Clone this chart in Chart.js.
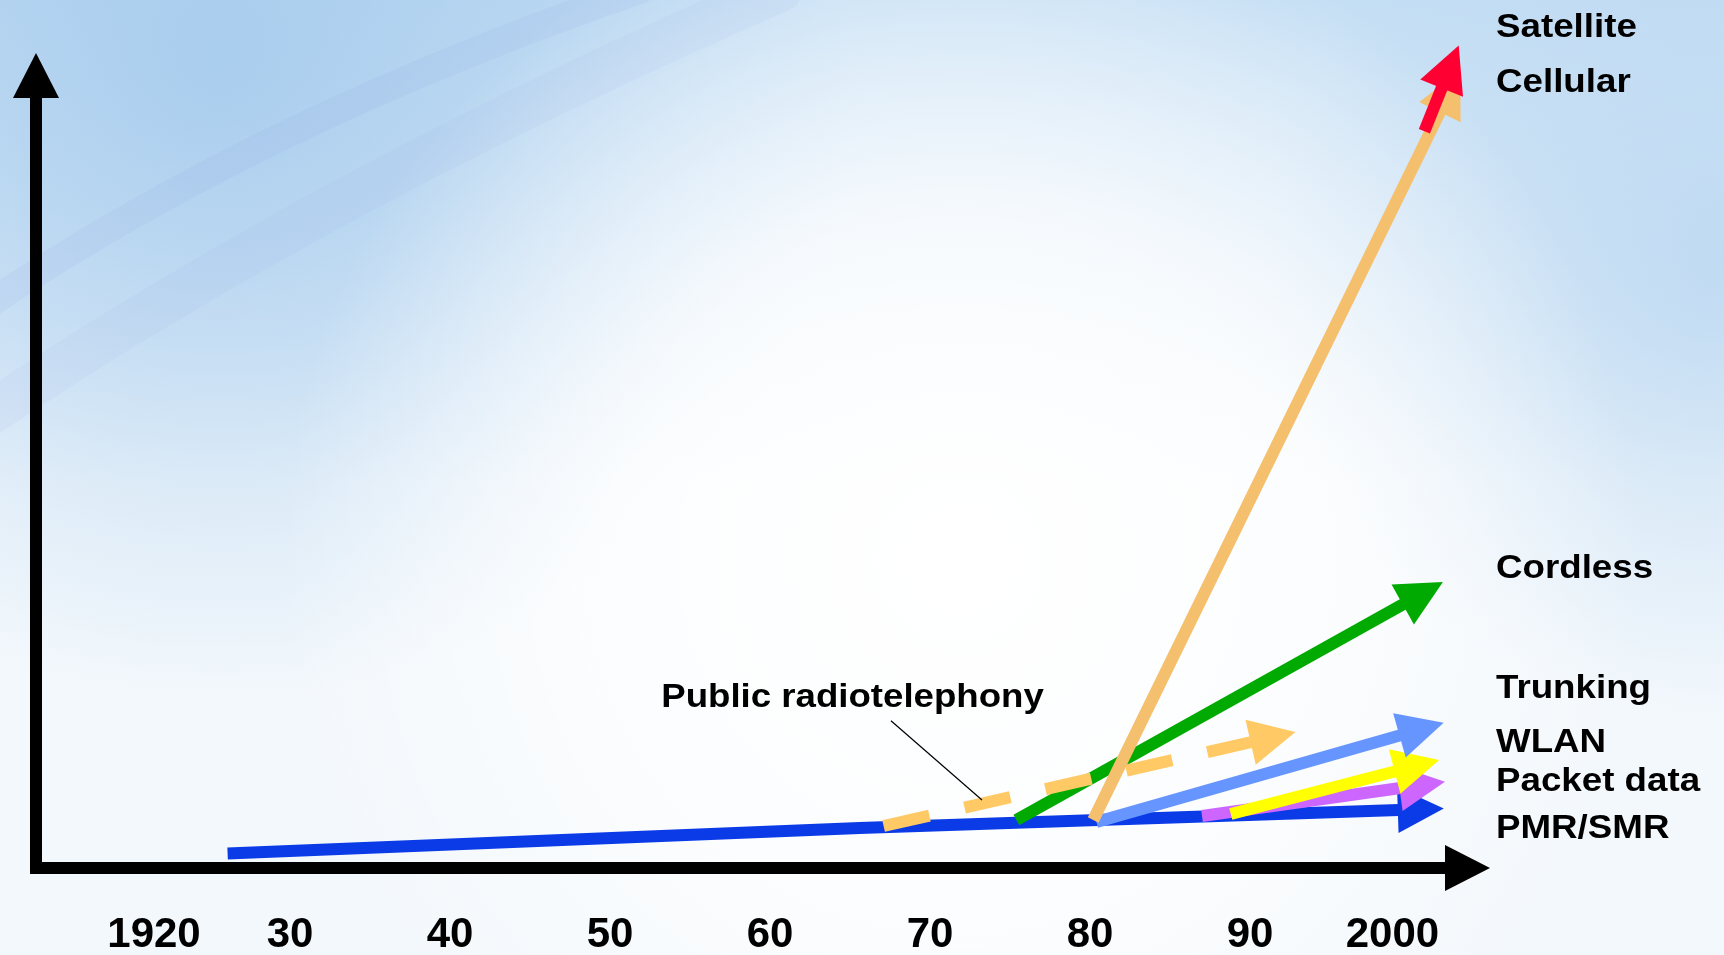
<!DOCTYPE html>
<html>
<head>
<meta charset="utf-8">
<title>Growth of mobile radio services</title>
<script src="https://cdn.jsdelivr.net/npm/chart.js@4.4.0/dist/chart.umd.min.js"></script>
<style>
  html, body { margin: 0; padding: 0; background: #fff; overflow: hidden; }
  canvas { display: block; }
</style>
</head>
<body>
<canvas id="growthChart" width="1724" height="955"></canvas>
<script>
// Time axis labels (1920 and 2000 sit a bit inwards, like on the slide)
const tickYears = [1921.5, 1930, 1940, 1950, 1960, 1970, 1980, 1990, 1998.9];
const tickLabels = ['1920', '30', '40', '50', '60', '70', '80', '90', '2000'];

// Series: year -> relative size (no units on the slide)
const satelliteYears = [2000.9, 2002.0];
const satelliteValues = [92.1, 97.6];

const cellularYears = [1980.2, 2001.9];
const cellularValues = [6.0, 94.6];

const publicYears = [1967.1, 1990.1];
const publicValues = [5.25, 15.75];

const cordlessYears = [1975.4, 1999.6];
const cordlessValues = [6.0, 33.0];

const trunkingYears = [1980.4, 1999.4];
const trunkingValues = [5.75, 16.6];

const wlanYears = [1988.8, 1999.1];
const wlanValues = [6.75, 12.1];

const packetYears = [1987.0, 1999.4];
const packetValues = [6.5, 10.0];

const pmrYears = [1926.1, 1965.6, 1981.9, 1999.3];
const pmrValues = [1.8, 5.0, 6.1, 7.25];

// text on the right hand side, top to bottom
const seriesNames = ['Satellite', 'Cellular', 'Cordless', 'Trunking', 'WLAN', 'Packet data', 'PMR/SMR'];
const noteText = 'Public radiotelephony';

const FONT = "'Liberation Sans', Arial, Helvetica, sans-serif";

function series(label, xs, ys, color, extra) {
    return Object.assign({
        label: label,
        data: xs.map((x, i) => ({ x: x, y: ys[i] })),
        borderColor: color,
        backgroundColor: color,
        borderWidth: 12,
        borderCapStyle: 'butt',
        borderJoinStyle: 'round',
        pointRadius: 0,
        pointHoverRadius: 0,
        tension: 0,
        fill: false
    }, extra || {});
}

function radial(ctx, x, y, r, inner, outer, mid) {
    const g = ctx.createRadialGradient(x, y, 0, x, y, r);
    g.addColorStop(0, inner);
    if (mid) g.addColorStop(0.5, mid);
    g.addColorStop(1, outer);
    return g;
}

// soft blue slide background
const slideBackground = {
    id: 'slideBackground',
    beforeDraw(chart) {
        const { ctx, width, height } = chart;
        ctx.save();
        ctx.fillStyle = '#f3f8fc';
        ctx.fillRect(0, 0, width, height);

        let g = ctx.createLinearGradient(0, 0, 0, 480);
        g.addColorStop(0, 'rgba(196,222,244,1)');
        g.addColorStop(1, 'rgba(196,222,244,0)');
        ctx.fillStyle = g;
        ctx.fillRect(0, 0, width, height);

        ctx.fillStyle = radial(ctx, 220, 60, 640, 'rgba(166,203,237,0.9)', 'rgba(166,203,237,0)');
        ctx.fillRect(0, 0, width, height);

        ctx.fillStyle = radial(ctx, 1724, 260, 460, 'rgba(186,215,241,0.85)', 'rgba(186,215,241,0)');
        ctx.fillRect(0, 0, width, height);

        ctx.fillStyle = radial(ctx, 960, 560, 680, 'rgba(255,255,255,1)', 'rgba(255,255,255,0)', 'rgba(255,255,255,0.75)');
        ctx.fillRect(0, 0, width, height);

        // faint swooshes
        ctx.lineCap = 'round';
        ctx.strokeStyle = 'rgba(140,160,228,0.10)';
        ctx.lineWidth = 28;
        ctx.beginPath();
        ctx.moveTo(-20, 310);
        ctx.quadraticCurveTo(260, 120, 640, -10);
        ctx.stroke();
        ctx.strokeStyle = 'rgba(140,160,228,0.07)';
        ctx.lineWidth = 44;
        ctx.beginPath();
        ctx.moveTo(-20, 420);
        ctx.quadraticCurveTo(320, 190, 780, -10);
        ctx.stroke();
        ctx.restore();
    }
};

// thick black axes with arrow heads
const axesArrows = {
    id: 'axesArrows',
    beforeDatasetsDraw(chart) {
        const { ctx, chartArea: ca } = chart;
        const x0 = ca.left, y0 = ca.bottom;
        ctx.save();
        ctx.fillStyle = '#000';
        // vertical
        ctx.fillRect(x0 - 6, ca.top + 44, 12, y0 - ca.top - 44 + 6);
        ctx.beginPath();
        ctx.moveTo(x0, ca.top + 1);
        ctx.lineTo(x0 - 23, ca.top + 46);
        ctx.lineTo(x0 + 23, ca.top + 46);
        ctx.closePath();
        ctx.fill();
        // horizontal
        ctx.fillRect(x0 - 3, y0 - 6, ca.right - 44 - x0 + 5, 12);
        ctx.beginPath();
        ctx.moveTo(ca.right, y0);
        ctx.lineTo(ca.right - 45, y0 - 23);
        ctx.lineTo(ca.right - 45, y0 + 23);
        ctx.closePath();
        ctx.fill();
        ctx.restore();
    }
};

// arrow head at the end of every series line
const arrowHeads = {
    id: 'arrowHeads',
    afterDatasetDraw(chart, args, opts) {
        const pts = args.meta.data;
        if (pts.length < 2) return;
        const a = pts[pts.length - 2], b = pts[pts.length - 1];
        let dx = b.x - a.x, dy = b.y - a.y;
        const d = Math.hypot(dx, dy);
        dx /= d; dy /= d;
        const L = opts.length, W = opts.halfWidth;
        const bx = b.x - dx, by = b.y - dy;
        const ctx = chart.ctx;
        ctx.save();
        ctx.fillStyle = chart.data.datasets[args.index].borderColor;
        ctx.beginPath();
        ctx.moveTo(b.x + dx * L, b.y + dy * L);
        ctx.lineTo(bx - dy * W, by + dx * W);
        ctx.lineTo(bx + dy * W, by - dx * W);
        ctx.closePath();
        ctx.fill();
        ctx.restore();
    }
};

function wideText(ctx, text, x, y, sx) {
    ctx.save();
    ctx.translate(x, y);
    ctx.scale(sx, 1);
    ctx.fillText(text, 0, 0);
    ctx.restore();
}

// series names on the right + the "Public radiotelephony" callout
const slideLabels = {
    id: 'slideLabels',
    afterDatasetsDraw(chart, args, opts) {
        const { ctx, chartArea: ca } = chart;
        const xs = chart.scales.x, ys = chart.scales.y;
        ctx.save();
        ctx.fillStyle = '#000';
        ctx.textAlign = 'left';
        ctx.textBaseline = 'alphabetic';
        ctx.font = 'bold 34px ' + FONT;
        seriesNames.forEach((name, i) => {
            wideText(ctx, name, ca.right + 6, ys.getPixelForValue(opts.levels[i]), 1.08);
        });

        const n = opts.note;
        ctx.strokeStyle = '#000';
        ctx.lineWidth = 1.2;
        ctx.beginPath();
        ctx.moveTo(xs.getPixelForValue(n.lineFrom[0]), ys.getPixelForValue(n.lineFrom[1]));
        ctx.lineTo(xs.getPixelForValue(n.lineTo[0]), ys.getPixelForValue(n.lineTo[1]));
        ctx.stroke();
        ctx.font = 'bold 33px ' + FONT;
        wideText(ctx, noteText, xs.getPixelForValue(n.at[0]), ys.getPixelForValue(n.at[1]), 1.11);
        ctx.restore();
    }
};

window.onload = function() {
    const ctx = document.getElementById('growthChart').getContext('2d');
    window.myChart = new Chart(ctx, {
        type: 'line',
        data: {
            datasets: [
                series('Satellite', satelliteYears, satelliteValues, '#ff0033'),
                series('Cellular', cellularYears, cellularValues, '#f5c06e'),
                series('Public radiotelephony', publicYears, publicValues, '#ffca66', { borderDash: [47, 36] }),
                series('Cordless', cordlessYears, cordlessValues, '#00aa00'),
                series('Trunking', trunkingYears, trunkingValues, '#6695ff'),
                series('WLAN', wlanYears, wlanValues, '#ffff00'),
                series('Packet data', packetYears, packetValues, '#cc66ff'),
                series('PMR/SMR', pmrYears, pmrValues, '#0a3be6')
            ]
        },
        options: {
            responsive: false,
            animation: false,
            devicePixelRatio: 1,
            layout: { padding: { left: 36, right: 234, top: 52, bottom: 0 } },
            scales: {
                x: {
                    type: 'linear',
                    min: 1914.125,
                    max: 2005,
                    grid: { display: false, drawTicks: false },
                    border: { display: false },
                    afterBuildTicks: axis => {
                        axis.ticks = tickYears.map(v => ({ value: v }));
                    },
                    afterFit: axis => {
                        axis.height = 87; // label band under the time axis
                    },
                    ticks: {
                        autoSkip: false,
                        maxRotation: 0,
                        padding: 46,
                        color: '#000',
                        font: { family: FONT, size: 42, weight: 'bold', lineHeight: 1 },
                        callback: (value, index) => tickLabels[index]
                    }
                },
                y: {
                    type: 'linear',
                    min: 0,
                    max: 102,
                    display: false
                }
            },
            plugins: {
                legend: { display: false },
                tooltip: { enabled: false },
                arrowHeads: { length: 45, halfWidth: 23 },
                slideLabels: {
                    levels: [103.9, 97, 36.25, 21.25, 14.5, 9.6, 3.75],
                    note: { at: [1953.2, 20.1], lineFrom: [1967.56, 18.4], lineTo: [1973.25, 8.5] }
                }
            }
        },
        plugins: [slideBackground, axesArrows, arrowHeads, slideLabels]
    });
};
</script>
</body>
</html>
